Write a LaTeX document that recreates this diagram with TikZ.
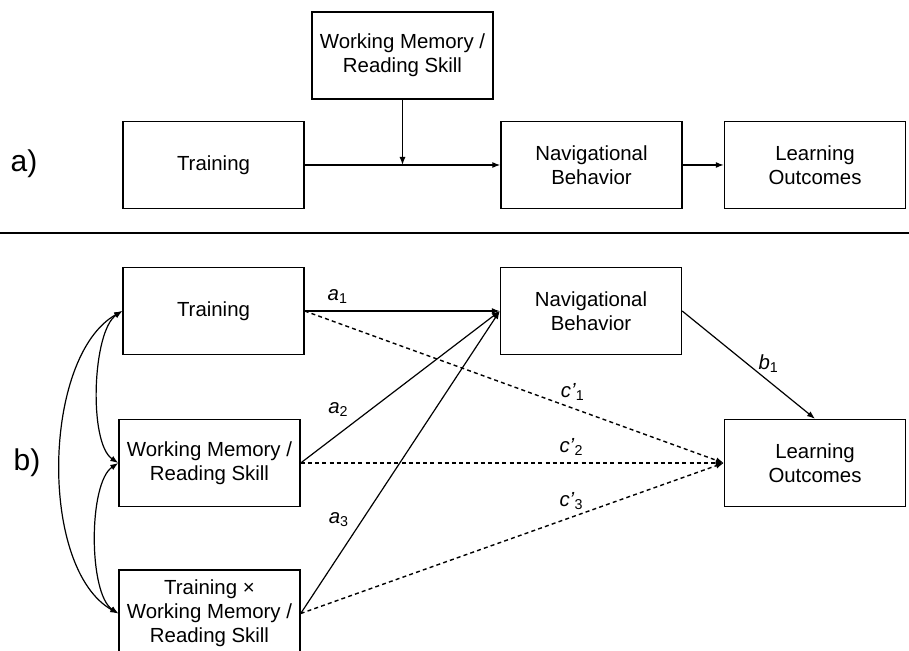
\documentclass[tikz,border=0pt]{standalone}
\usepackage{fontspec}
\setmainfont{Liberation Sans}
\usetikzlibrary{arrows.meta}
\tikzstyle{arrow} = [-{Latex[length=4pt,width=3pt]}]
\tikzstyle{both} = [{Latex[length=4pt,width=3pt]}-{Latex[length=4pt,width=3pt]}]
\tikzstyle{direct} = [-{Latex[length=4pt,width=3pt]},dash pattern=on 2pt off 1.6pt,line width=0.7pt]
\newcommand{\coef}[2]{\textit{#1}\textsubscript{#2}}

\begin{document}
\begin{tikzpicture}[x=0.5pt,y=-0.5pt,line width=0.6pt,
    every node/.style={font=\fontsize{10.2}{12}\selectfont},
    box/.style={shape=rectangle,draw,line width=0.7pt,minimum width=90.5pt,minimum height=43.5pt,align=center,inner sep=0pt},
    part/.style={font=\fontsize{15}{17}\selectfont}]
    \clip (0,0) rectangle (909,651);
    % create the nodes (a)
    \node (la)[part] at (24,164) {a)};
    \node (trainA)[box] at (213.5,165) {Training};
    \node (wmA)[box] at (402.5,55.5) {Working Memory /\\Reading Skill};
    \node (navA)[box] at (591.5,165) {Navigational\\Behavior};
    \node (learnA)[box] at (815,165) {Learning\\Outcomes};
    \coordinate (modA) at (wmA.south |- trainA.east);
    \coordinate (sepL) at (0,233);
    \coordinate (sepR) at (909,233);
    % create the nodes (b)
    \node (lb)[part] at (27,463) {b)};
    \node (trainB)[box] at (213.5,311) {Training};
    \node (wmB)[box] at (209.5,463) {Working Memory /\\Reading Skill};
    \node (intB)[box] at (209.5,613.5) {Training ×\\Working Memory /\\Reading Skill};
    \node (navB)[box] at (591,311) {Navigational\\Behavior};
    \node (learnB)[box] at (815,463) {Learning\\Outcomes};
    % connect the nodes (a)
    \draw[line width=1pt] (sepL) -- (sepR);
    \draw[arrow] (trainA.east) -- (navA.west);
    \draw[arrow] (wmA.south) -- (modA);
    \draw[arrow] (navA.east) -- (learnA.west);
    % connect the nodes (b)
    \draw[arrow] (trainB.east) -- node[pos=0.17,above]{\coef{a}{1}} (navB.west);
    \draw[arrow] (wmB.east) -- node[pos=0.19,above=5pt]{\coef{a}{2}} (navB.west);
    \draw[arrow] (intB.east) -- node[pos=0.31,left=3pt]{\coef{a}{3}} (navB.west);
    \draw[arrow] (navB.east) -- node[pos=0.49,right=2pt]{\coef{b}{1}} (learnB.north);
    \draw[direct] (trainB.east) -- node[pos=0.64,above]{\coef{c'}{1}} (learnB.west);
    \draw[direct] (wmB.east) -- node[pos=0.64,above]{\coef{c'}{2}} (learnB.west);
    \draw[direct] (intB.east) -- node[pos=0.64,above]{\coef{c'}{3}} (learnB.west);
    \draw[both] (trainB.west) .. controls +(-30,20) and +(-30,-20) .. (wmB.west);
    \draw[both] (wmB.west) .. controls +(-30,20) and +(-30,-20) .. (intB.west);
    \draw[both] (trainB.west) .. controls +(-80,45) and +(-80,-45) .. (intB.west);
\end{tikzpicture}
\end{document}
